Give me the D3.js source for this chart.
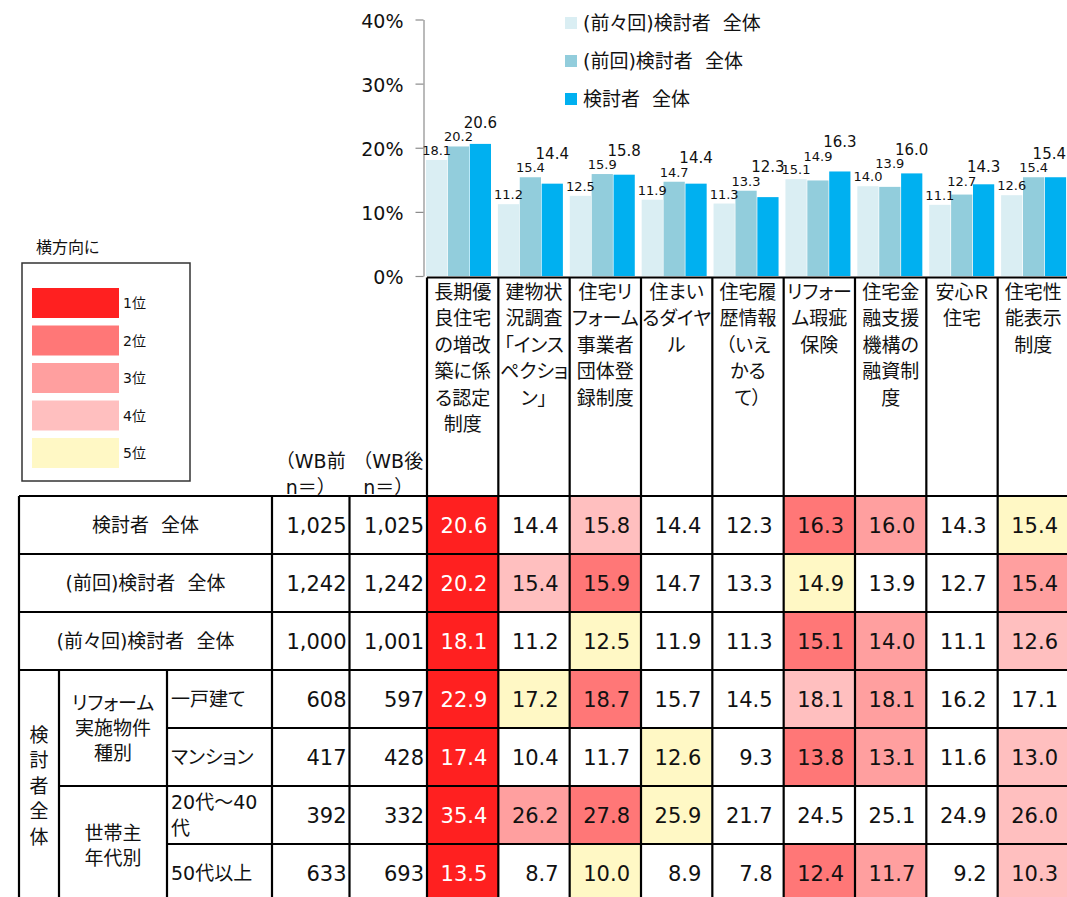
<!DOCTYPE html>
<html>
<head>
<meta charset="utf-8">
<script src="https://cdn.jsdelivr.net/npm/d3@7"></script>
<style>
  body { margin: 0; background: #fff; }
  svg text {
    font-family: "DejaVu Sans", "Noto Sans CJK JP", sans-serif;
    font-feature-settings: "palt" 1;
    white-space: pre;
    fill: #111;
  }
  svg text.full { font-feature-settings: normal; }
</style>
</head>
<body>
<svg id="chart" width="1067" height="897"></svg>
<script>
// ---- data ----
const categories = [
  "長期優良住宅の増改築に係る認定制度",
  "建物状況調査「インスペクション」",
  "住宅リフォーム事業者団体登録制度",
  "住まいるダイヤル",
  "住宅履歴情報（いえかるて）",
  "リフォーム瑕疵保険",
  "住宅金融支援機構の融資制度",
  "安心Ｒ住宅",
  "住宅性能表示制度"
];
const categoryLines = [
  ["長期優", "良住宅", "の増改", "築に係", "る認定", "制度"],
  ["建物状", "況調査", "「インス", "ペクショ", "ン」"],
  ["住宅リ", "フォーム", "事業者", "団体登", "録制度"],
  ["住まい", "るダイヤ", "ル"],
  ["住宅履", "歴情報", "（いえ", "かる", "て）"],
  ["リフォー", "ム瑕疵", "保険"],
  ["住宅金", "融支援", "機構の", "融資制", "度"],
  ["安心Ｒ", "住宅"],
  ["住宅性", "能表示", "制度"]
];
const seriesNames = ["(前々回)検討者  全体", "(前回)検討者  全体", "検討者  全体"];
const prev2Values = [18.1, 11.2, 12.5, 11.9, 11.3, 15.1, 14.0, 11.1, 12.6];
const prevValues  = [20.2, 15.4, 15.9, 14.7, 13.3, 14.9, 13.9, 12.7, 15.4];
const currValues  = [20.6, 14.4, 15.8, 14.4, 12.3, 16.3, 16.0, 14.3, 15.4];
const yTicks = [0, 0.1, 0.2, 0.3, 0.4];

const rankLabels = ["1位", "2位", "3位", "4位", "5位"];

// table rows (values per category, in %)
const rowLabels = ["検討者  全体", "(前回)検討者  全体", "(前々回)検討者  全体",
                   "一戸建て", "マンション", "20代～40代", "50代以上"];
const nBefore = ["1,025", "1,242", "1,000", "608", "417", "392", "633"];
const nAfter  = ["1,025", "1,242", "1,001", "597", "428", "332", "693"];
const detachedValues = [22.9, 17.2, 18.7, 15.7, 14.5, 18.1, 18.1, 16.2, 17.1];
const condoValues    = [17.4, 10.4, 11.7, 12.6,  9.3, 13.8, 13.1, 11.6, 13.0];
const age20to40Values= [35.4, 26.2, 27.8, 25.9, 21.7, 24.5, 25.1, 24.9, 26.0];
const age50plusValues= [13.5,  8.7, 10.0,  8.9,  7.8, 12.4, 11.7,  9.2, 10.3];
// rank within each row (0 = outside top 5)
const currRanks      = [1, 0, 4, 0, 0, 2, 3, 0, 5];
const prevRanks      = [1, 4, 2, 0, 0, 5, 0, 0, 3];
const prev2Ranks     = [1, 0, 5, 0, 0, 2, 3, 0, 4];
const detachedRanks  = [1, 5, 2, 0, 0, 4, 3, 0, 0];
const condoRanks     = [1, 0, 0, 5, 0, 2, 3, 0, 4];
const age20to40Ranks = [1, 3, 2, 5, 0, 0, 0, 0, 4];
const age50plusRanks = [1, 0, 5, 0, 0, 2, 3, 0, 4];

// ---- styles ----
const seriesColors = ["#DAEEF3", "#92CDDC", "#00B0F0"];
const labelSizes = [13, 13, 15];
const labelRaise = [5, 5, 12];
const rankColors = ["#FF2020", "#FF7777", "#FF9F9F", "#FFBFBF", "#FFF8C5"];

const seriesValues = [prev2Values, prevValues, currValues];
const tableValues = [currValues, prevValues, prev2Values, detachedValues, condoValues, age20to40Values, age50plusValues];
const tableRanks = [currRanks, prevRanks, prev2Ranks, detachedRanks, condoRanks, age20to40Ranks, age50plusRanks];

const W = 1067;
const svg = d3.select("#chart");

// ---- bar chart ----
const y = d3.scaleLinear().domain([0, 0.4]).range([276, 19.5]);
const x0 = d3.scaleBand().domain(categories).range([423, 1070]);
const x1 = d3.scaleBand().domain(d3.range(seriesNames.length)).range([3, 68]).paddingInner(0.03);

const yAxis = svg.append("g")
  .attr("transform", "translate(423.5,0)")
  .call(d3.axisLeft(y).tickValues(yTicks).tickFormat(d3.format(".0%"))
        .tickSize(8).tickSizeOuter(0).tickPadding(12));
yAxis.select(".domain").attr("stroke", "#8c8c8c").attr("stroke-width", 1.2);
yAxis.selectAll(".tick line").attr("stroke", "#8c8c8c").attr("stroke-width", 1.2);
yAxis.selectAll(".tick text").attr("font-size", 19).attr("dy", "0.42em")
  .style("font-family", '"DejaVu Sans", sans-serif').style("fill", "#111");

const bars = svg.append("g");
seriesValues.forEach((vals, s) => {
  bars.append("g").selectAll("rect").data(vals).join("rect")
    .attr("x", (d, i) => x0(categories[i]) + x1(s))
    .attr("y", d => y(d / 100))
    .attr("width", x1.bandwidth())
    .attr("height", d => y(0) - y(d / 100))
    .attr("fill", seriesColors[s]);
});

// value labels: placed above each bar, lifted when they collide with a neighbour
const labelLayer = svg.append("g");
categories.forEach((cat, i) => {
  const placed = [];
  seriesValues.forEach((vals, s) => {
    const v = vals[i];
    const fs = labelSizes[s];
    const t = labelLayer.append("text")
      .attr("text-anchor", "middle")
      .attr("font-size", fs)
      .text(v.toFixed(1));
    const w = t.node().getComputedTextLength();
    let cx = x0(cat) + x1(s) + x1.bandwidth() / 2;
    cx = Math.min(cx, W - 1 - w / 2);
    let base = y(v / 100) - labelRaise[s];
    const boxH = fs * 0.95;
    placed.forEach(p => {
      const hOverlap = Math.abs(p.cx - cx) < (p.w + w) / 2 + 1;
      const vOverlap = base > p.base - p.boxH && base - boxH < p.base;
      if (hOverlap && vOverlap) base = p.base - p.boxH - 1;
    });
    t.attr("x", cx).attr("y", base);
    placed.push({ cx, w, base, boxH });
  });
});

// series legend
const legend = svg.append("g");
seriesNames.forEach((name, s) => {
  const cy = 23 + s * 38;
  legend.append("rect").attr("x", 565).attr("y", cy - 6).attr("width", 12).attr("height", 12)
    .attr("fill", seriesColors[s]);
  legend.append("text").attr("x", 583).attr("y", cy).attr("dy", "0.36em")
    .attr("font-size", 19).text(name);
});

// ---- rank legend ----
svg.append("text").attr("x", 36).attr("y", 247).attr("dy", "0.36em")
  .attr("font-size", 16).text("横方向に");
svg.append("rect").attr("x", 22).attr("y", 263).attr("width", 168).attr("height", 218)
  .attr("fill", "none").attr("stroke", "#333").attr("stroke-width", 1.5);
rankLabels.forEach((lab, i) => {
  const top = 288 + i * 37.5;
  svg.append("rect").attr("x", 32).attr("y", top).attr("width", 87).attr("height", 30)
    .attr("fill", rankColors[i]);
  svg.append("text").attr("x", 123).attr("y", top + 15).attr("dy", "0.36em")
    .attr("font-size", 14).text(lab);
});

// ---- table ----
const colX = d3.scaleBand().domain(categories).range([427, 1069]);
const rowY = d3.scaleBand().domain(d3.range(rowLabels.length)).range([496, 902]);
const cw = colX.bandwidth(), rh = rowY.bandwidth();
const headerTop = 277.5, tableBottom = rowY.range()[1];
const xLeft = 19, xGroup = 59, xSub = 167, xItem = 272, xN1 = 349.5, xN2 = 427;

const table = svg.append("g");

// heat cells and values
tableValues.forEach((vals, r) => {
  vals.forEach((v, c) => {
    const rk = tableRanks[r][c];
    if (rk > 0) {
      table.append("rect").attr("x", colX(categories[c])).attr("y", rowY(r))
        .attr("width", cw).attr("height", rh).attr("fill", rankColors[rk - 1]);
    }
    table.append("text")
      .attr("x", colX(categories[c]) + cw - 11)
      .attr("y", rowY(r) + rh / 2).attr("dy", "0.36em")
      .attr("text-anchor", "end").attr("font-size", 21)
      .style("fill", rk === 1 ? "#fff" : "#111")
      .text(v.toFixed(1));
  });
  table.append("text").attr("x", xN1 - 3).attr("y", rowY(r) + rh / 2).attr("dy", "0.36em")
    .attr("text-anchor", "end").attr("font-size", 21).text(nBefore[r]);
  table.append("text").attr("x", xN2 - 3).attr("y", rowY(r) + rh / 2).attr("dy", "0.36em")
    .attr("text-anchor", "end").attr("font-size", 21).text(nAfter[r]);
});

// column headers
categoryLines.forEach((lines, c) => {
  lines.forEach((ln, i) => {
    table.append("text").attr("x", colX(categories[c]) + cw / 2)
      .attr("y", 292 + i * 26.5).attr("dy", "0.36em")
      .attr("text-anchor", "middle").attr("font-size", 19).text(ln);
  });
});
[["（WB前", "n＝）"], ["（WB後", "n＝）"]].forEach((lines, k) => {
  const cx = k === 0 ? (xItem + xN1) / 2 : (xN1 + xN2) / 2;
  lines.forEach((ln, i) => {
    table.append("text").attr("class", "full").attr("x", cx).attr("y", 461 + i * 26).attr("dy", "0.36em")
      .attr("text-anchor", "middle").attr("font-size", 19).text(ln);
  });
});

// row labels
[0, 1, 2].forEach(r => {
  table.append("text").attr("x", (xLeft + xItem) / 2).attr("y", rowY(r) + rh / 2).attr("dy", "0.36em")
    .attr("text-anchor", "middle").attr("font-size", 19).text(rowLabels[r]);
});
const groupMid = (rowY(3) + tableBottom) / 2;
Array.from("検討者全体").forEach((ch, i, arr) => {
  table.append("text").attr("x", (xLeft + xGroup) / 2)
    .attr("y", groupMid + (i - (arr.length - 1) / 2) * 25.5).attr("dy", "0.36em")
    .attr("text-anchor", "middle").attr("font-size", 19).text(ch);
});
const subGroups = [
  { lines: ["リフォーム", "実施物件", "種別"], mid: rowY(4) },
  { lines: ["世帯主", "年代別"], mid: rowY(6) + 2 }
];
subGroups.forEach(sg => {
  sg.lines.forEach((ln, i) => {
    table.append("text").attr("x", (xGroup + xSub) / 2)
      .attr("y", sg.mid + (i - (sg.lines.length - 1) / 2) * 25).attr("dy", "0.36em")
      .attr("text-anchor", "middle").attr("font-size", 19).text(ln);
  });
});
const itemLines = [["一戸建て"], ["マンション"], ["20代～40", "代"], ["50代以上"]];
itemLines.forEach((lines, k) => {
  const r = k + 3;
  lines.forEach((ln, i) => {
    table.append("text").attr("x", xSub + 4)
      .attr("y", rowY(r) + rh / 2 + (i - (lines.length - 1) / 2) * 26).attr("dy", "0.36em")
      .attr("font-size", 19).text(ln);
  });
});

// grid lines
const gridPath = d3.path();
const seg = (xa, ya, xb, yb) => { gridPath.moveTo(xa, ya); gridPath.lineTo(xb, yb); };
const xRight = colX.range()[1];
seg(xN2, headerTop, xRight, headerTop);
categories.forEach(c => seg(colX(c), headerTop, colX(c), tableBottom));
seg(xRight, headerTop, xRight, tableBottom);
seg(xLeft, rowY(0), xRight, rowY(0));
[1, 2, 3].forEach(r => seg(xLeft, rowY(r), xRight, rowY(r)));
seg(xSub, rowY(4), xRight, rowY(4));
seg(xGroup, rowY(5), xRight, rowY(5));
seg(xSub, rowY(6), xRight, rowY(6));
seg(xLeft, tableBottom, xRight, tableBottom);
seg(xLeft, rowY(0), xLeft, tableBottom);
seg(xGroup, rowY(3), xGroup, tableBottom);
seg(xSub, rowY(3), xSub, tableBottom);
seg(xItem, rowY(0), xItem, tableBottom);
seg(xN1, rowY(0), xN1, tableBottom);
table.append("path").attr("d", gridPath.toString())
  .attr("fill", "none").attr("stroke", "#000").attr("stroke-width", 2.2);
</script>
</body>
</html>
